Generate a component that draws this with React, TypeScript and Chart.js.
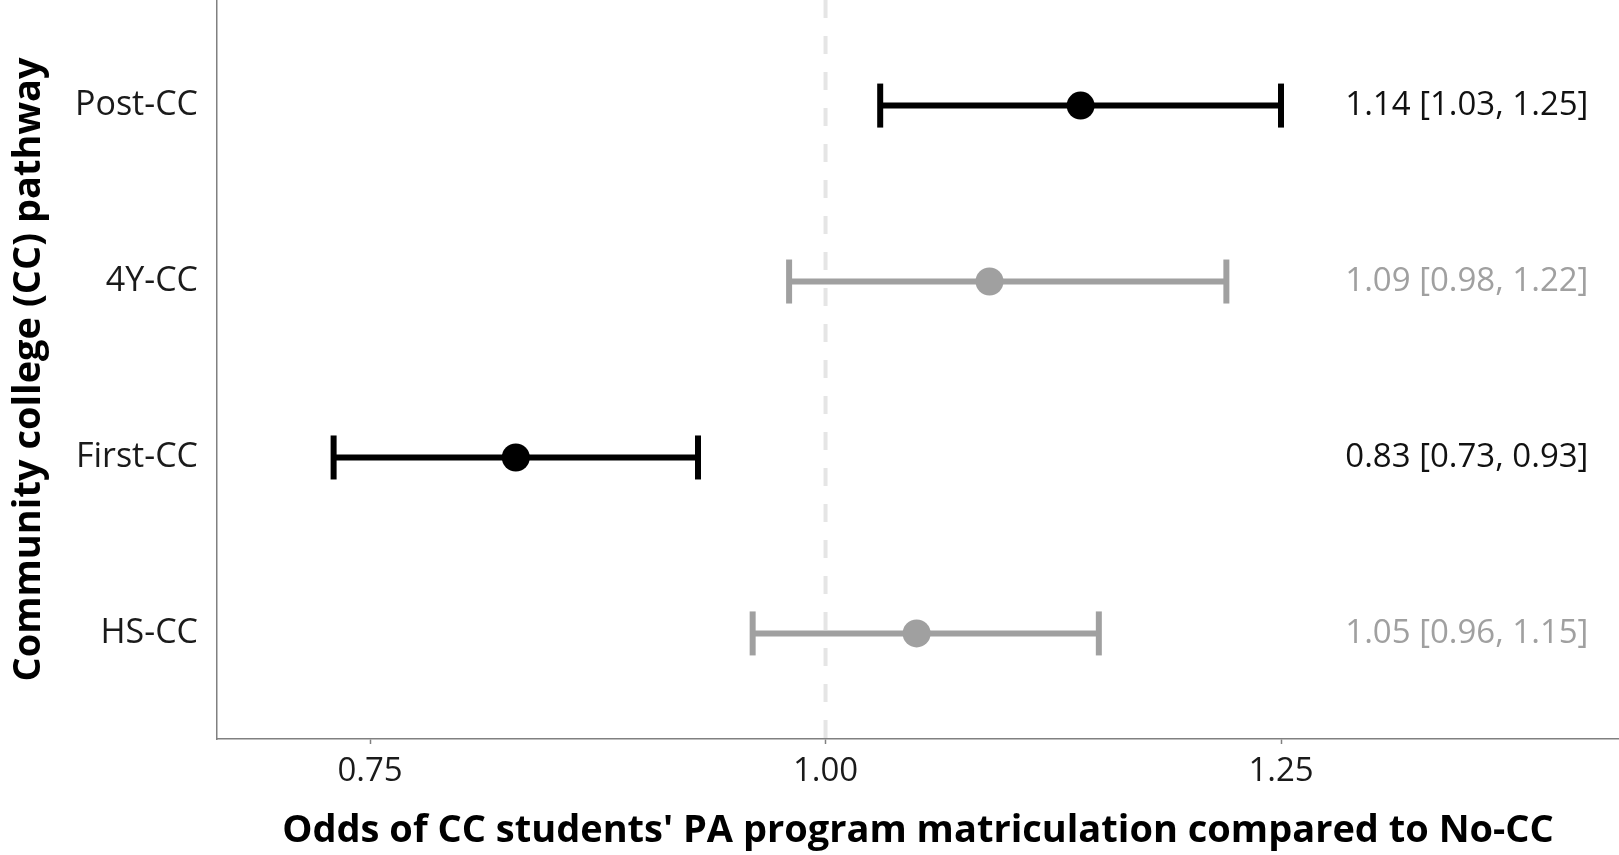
import React, { useEffect, useRef } from "react";
import { Chart, registerables } from "chart.js";

Chart.register(...registerables);

// ---- data ----
const categories = ["Post-CC", "4Y-CC", "First-CC", "HS-CC"];
const oddsRatio = [1.14, 1.09, 0.83, 1.05];
const ciLow = [1.03, 0.98, 0.73, 0.96];
const ciHigh = [1.25, 1.22, 0.93, 1.15];
const xTicks = [0.75, 1.0, 1.25];
const xTickLabels = ["0.75", "1.00", "1.25"];
const referenceValue = 1.0;
const xTitle = "Odds of CC students' PA program matriculation compared to No-CC";
const yTitle = "Community college (CC) pathway";

const BLACK = "#000000";
const GREY = "#a0a0a0";
const FONT = "'Open Sans', 'DejaVu Sans', sans-serif";

function noPadding(scale: any) {
  scale.paddingTop = 0;
  scale.paddingBottom = 0;
  scale.paddingLeft = 0;
  scale.paddingRight = 0;
}

export default function App() {
  const ref = useRef<HTMLCanvasElement | null>(null);

  useEffect(() => {
    document.body.style.margin = "0";
    const canvas = ref.current;
    if (!canvas) return;

    const n = categories.length;
    const yPos = categories.map((_, i) => n - i);
    const significant = categories.map((_, i) => ciLow[i] > referenceValue || ciHigh[i] < referenceValue);
    const colors = significant.map((s) => (s ? BLACK : GREY));
    const labelTexts = categories.map(
      (_, i) => `${oddsRatio[i].toFixed(2)} [${ciLow[i].toFixed(2)}, ${ciHigh[i].toFixed(2)}]`
    );

    const whiskers: any[] = categories.map((_, i) => ({
      type: "scatter",
      data: [
        { x: ciLow[i], y: yPos[i] },
        { x: ciHigh[i], y: yPos[i] },
      ],
      showLine: true,
      borderColor: colors[i],
      borderWidth: 6,
      pointRadius: 0,
      order: 3,
    }));

    const caps: any = {
      type: "scatter",
      data: [
        ...categories.map((_, i) => ({ x: ciLow[i], y: yPos[i] })),
        ...categories.map((_, i) => ({ x: ciHigh[i], y: yPos[i] })),
      ],
      pointStyle: "line",
      rotation: 90,
      pointRadius: 22,
      borderWidth: 6,
      pointBorderColor: [...colors, ...colors],
      borderColor: [...colors, ...colors],
      order: 2,
    };

    const points: any = {
      type: "scatter",
      data: categories.map((_, i) => ({ x: oddsRatio[i], y: yPos[i] })),
      pointStyle: "circle",
      pointRadius: 14,
      pointBackgroundColor: colors,
      pointBorderColor: colors,
      borderWidth: 0,
      order: 1,
    };

    const refLine = {
      id: "refLine",
      beforeDatasetsDraw(chart: any) {
        const { ctx, chartArea, scales } = chart;
        const x = scales.x.getPixelForValue(referenceValue);
        ctx.save();
        ctx.strokeStyle = "#e5e5e5";
        ctx.lineWidth = 4;
        ctx.setLineDash([18, 18]);
        ctx.beginPath();
        ctx.moveTo(x, chartArea.top);
        ctx.lineTo(x, chartArea.bottom);
        ctx.stroke();
        ctx.restore();
      },
    };

    const estimateLabels = {
      id: "estimateLabels",
      afterDatasetsDraw(chart: any) {
        const { ctx, scales } = chart;
        const x = scales.x.getPixelForValue(1.352);
        ctx.save();
        ctx.font = `33px ${FONT}`;
        ctx.textAlign = "center";
        ctx.textBaseline = "middle";
        labelTexts.forEach((t, i) => {
          ctx.fillStyle = significant[i] ? "#111111" : GREY;
          ctx.fillText(t, x, scales.y.getPixelForValue(yPos[i]));
        });
        ctx.restore();
      },
    };

    const chart = new Chart(canvas, {
      type: "scatter",
      data: { datasets: [points, caps, ...whiskers] },
      plugins: [refLine, estimateLabels],
      options: {
        animation: false,
        responsive: false,
        layout: { padding: 0, autoPadding: false },
        plugins: {
          legend: { display: false },
          tooltip: { enabled: false },
        },
        scales: {
          x: {
            type: "linear",
            min: 0.666,
            max: 1.4355,
            afterBuildTicks: (scale: any) => {
              scale.ticks = xTicks.map((v) => ({ value: v }));
            },
            afterFit: (scale: any) => {
              scale.height = 116;
              noPadding(scale);
            },
            ticks: {
              autoSkip: false,
              maxRotation: 0,
              padding: 8,
              color: "#1a1a1a",
              font: { family: FONT, size: 33 },
              callback: (v: any) => {
                const idx = xTicks.findIndex((t) => Math.abs(t - Number(v)) < 1e-9);
                return idx >= 0 ? xTickLabels[idx] : "";
              },
            },
            grid: {
              drawOnChartArea: false,
              drawTicks: true,
              tickLength: 5,
              tickColor: "#808080",
              tickWidth: 1.5,
            },
            border: { display: true, color: "#808080", width: 1.5 },
            title: {
              display: true,
              text: xTitle,
              color: "#000000",
              font: { family: FONT, size: 38, weight: "bold" },
              padding: { top: 0, bottom: 1 },
            },
          },
          y: {
            type: "linear",
            min: 0.4,
            max: 4.6,
            afterBuildTicks: (scale: any) => {
              scale.ticks = yPos.map((v) => ({ value: v }));
            },
            afterFit: (scale: any) => {
              scale.width = 217;
              noPadding(scale);
            },
            ticks: {
              autoSkip: false,
              padding: 19,
              color: "#1a1a1a",
              font: { family: FONT, size: 34 },
              callback: (v: any) => {
                const idx = yPos.findIndex((p) => Math.abs(p - Number(v)) < 1e-9);
                return idx >= 0 ? categories[idx] : "";
              },
            },
            grid: { drawOnChartArea: false, drawTicks: false },
            border: { display: true, color: "#808080", width: 1.5 },
            title: {
              display: true,
              text: yTitle,
              color: "#000000",
              font: { family: FONT, size: 38, weight: "bold" },
              padding: { top: 6, bottom: 0 },
            },
          },
        },
      },
    } as any);

    return () => chart.destroy();
  }, []);

  return (
    <div style={{ width: 1619, height: 855 }}>
      <canvas ref={ref} width={1619} height={855} style={{ display: "block", width: 1619, height: 855 }} />
    </div>
  );
}
